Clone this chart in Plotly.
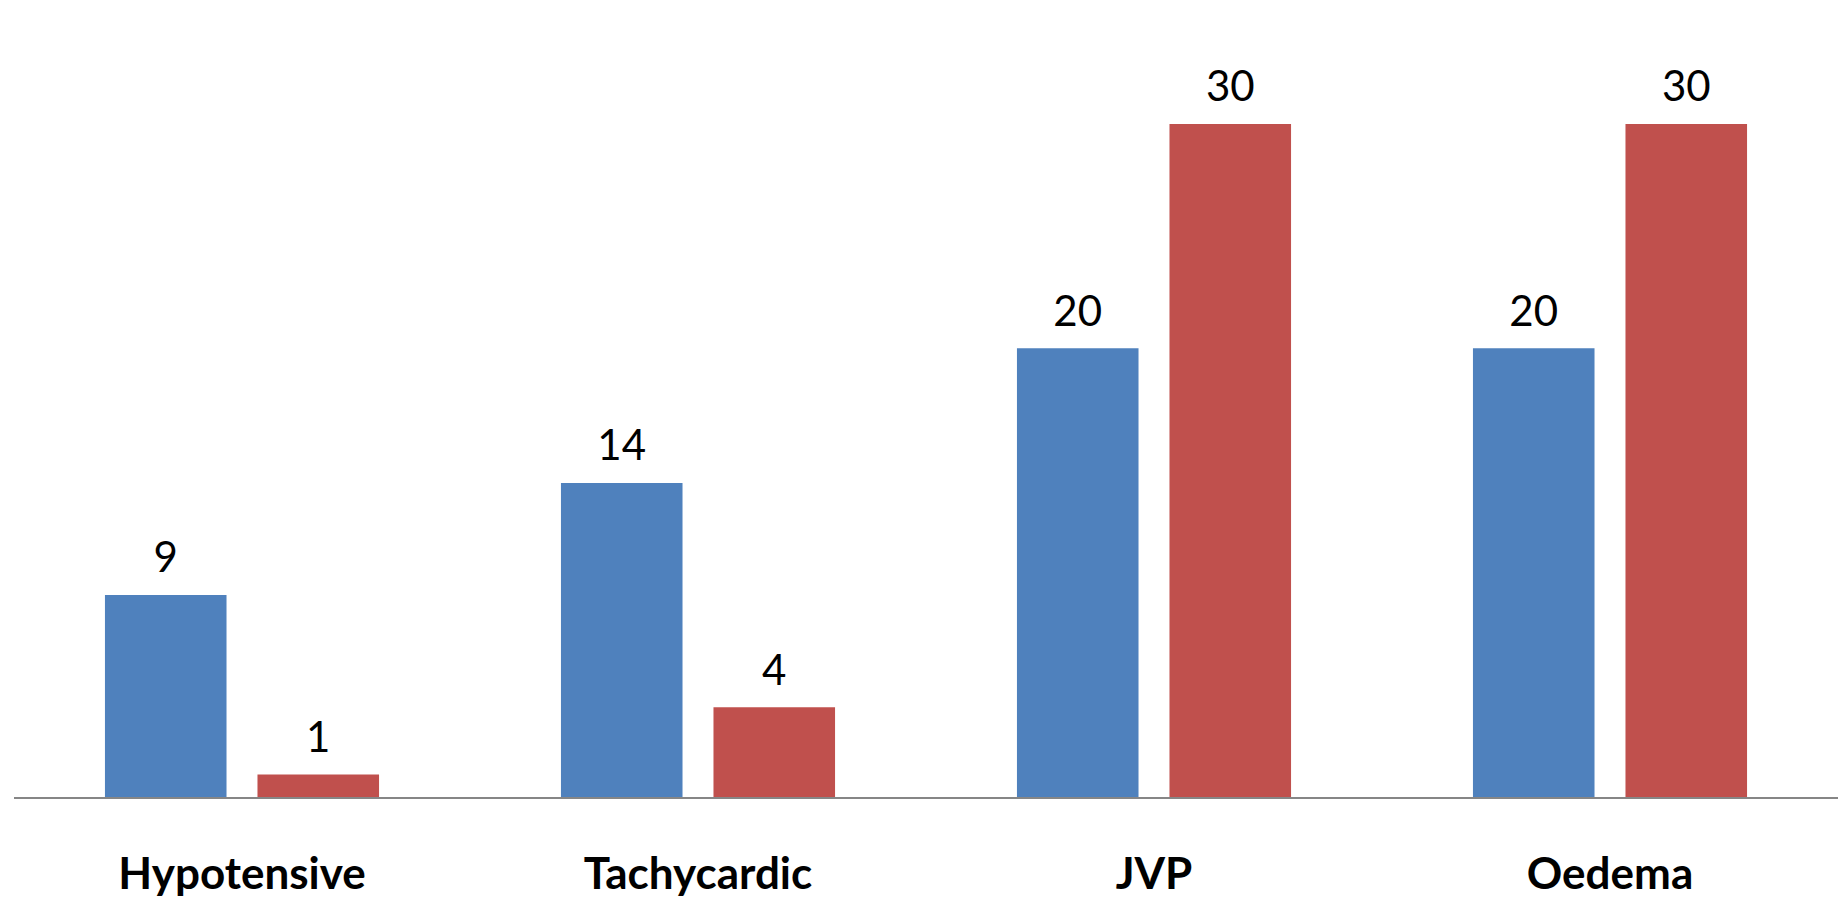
import plotly.graph_objects as go

categories = ["Hypotensive", "Tachycardic", "JVP", "Oedema"]
series_a = [9, 14, 20, 20]
series_b = [1, 4, 30, 30]
colors = ["#4F81BD", "#C0504D"]

BARGAP = 0.331
GROUPGAP = 0.203
LABEL_SIZE = 42
TICK_SIZE = 44

fig = go.Figure()
for i, (vals, col) in enumerate(zip([series_a, series_b], colors)):
    fig.add_trace(go.Bar(
        x=categories, y=vals, marker=dict(color=col, line=dict(width=0)),
        offsetgroup=str(i), alignmentgroup="g", showlegend=False, hoverinfo="skip",
    ))
for i, vals in enumerate([series_a, series_b]):
    fig.add_trace(go.Scatter(
        x=categories, y=vals, mode="markers+text", text=[str(v) for v in vals],
        textposition="top center",
        textfont=dict(family="Lato", size=LABEL_SIZE, color="#000000"),
        marker=dict(size=18, color="rgba(0,0,0,0)"),
        offsetgroup=str(i), alignmentgroup="s", showlegend=False, hoverinfo="skip",
        cliponaxis=False,
    ))

fig.update_layout(
    width=1838, height=897,
    margin=dict(l=14, r=0, t=79, b=100, autoexpand=False),
    paper_bgcolor="white", plot_bgcolor="white",
    barmode="group", bargap=BARGAP, bargroupgap=GROUPGAP,
    scattermode="group", scattergap=BARGAP,
    xaxis=dict(
        type="category", range=[-0.5, 3.5], showline=True, linecolor="#868686", linewidth=2,
        showgrid=False, ticks="", zeroline=False, automargin=False,
        tickfont=dict(family="Lato", size=TICK_SIZE, color="#000000", weight="bold"),
        ticklabelstandoff=37,
    ),
    yaxis=dict(range=[0, 32], visible=False),
)

fig.write_html("out.html", config={"displayModeBar": False},
               post_script="document.body.style.margin='0';")
